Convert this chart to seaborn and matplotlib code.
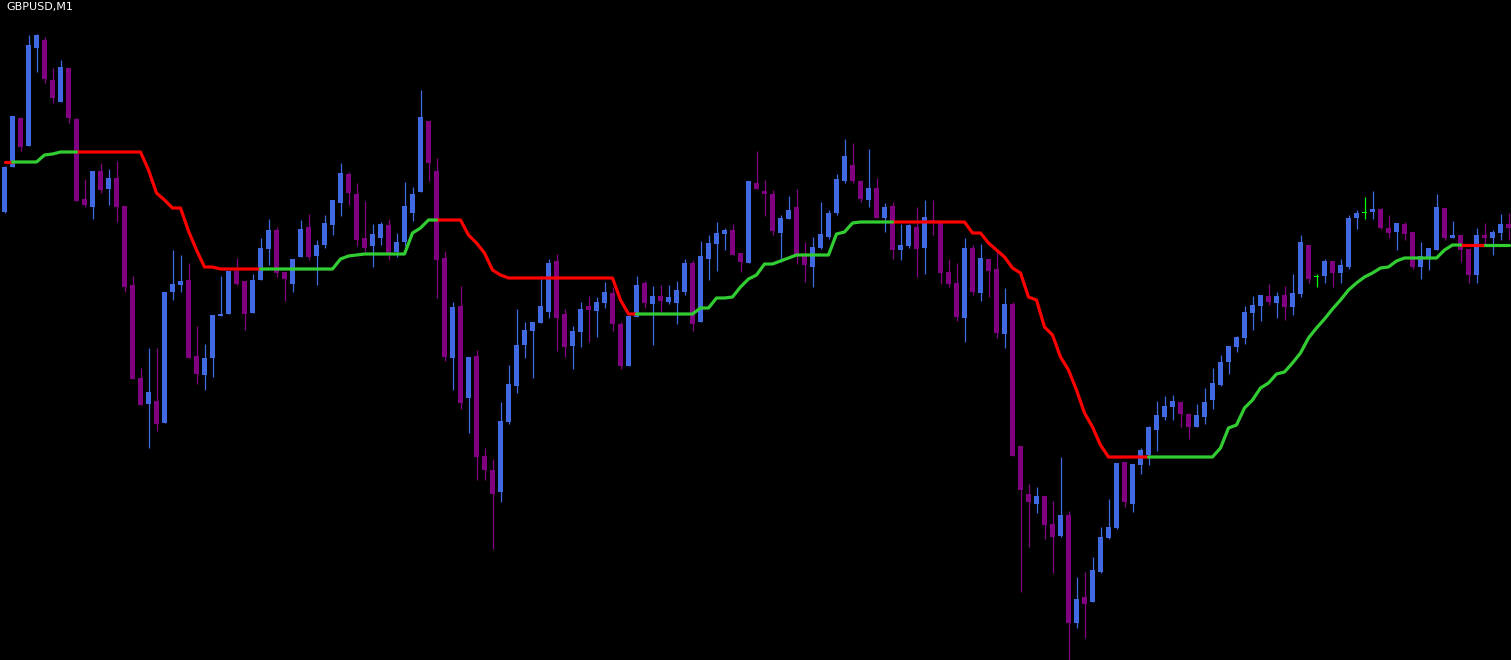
import numpy as np
import pandas as pd
import seaborn as sns
import matplotlib.pyplot as plt

# GBPUSD M1 quotes, stored in points (0.00001) below the chart top price
TOP_PRICE = 1.27000
POINT = 0.00001

open_pts = [212, 167, 118, 146, 48, 40, 80, 102, 68, 119, 199, 207, 171, 189, 178, 206, 285, 378, 404, 401,
            423, 292, 285, 280, 356, 375, 358, 316, 314, 271, 281, 313, 280, 249, 230, 272, 284, 257, 227, 256,
            245, 225, 203, 174, 194, 238, 246, 238, 225, 252, 242, 213, 192, 121, 171, 258, 358, 306, 398, 356,
            456, 470, 492, 422, 386, 345, 331, 323, 312, 261, 314, 346, 332, 306, 311, 303, 293, 324, 366, 317,
            283, 304, 296, 302, 303, 292, 263, 322, 259, 244, 234, 230, 253, 263, 183, 191, 194, 233, 219, 207,
            255, 267, 248, 237, 213, 181, 165, 181, 200, 188, 218, 206, 250, 246, 227, 248, 220, 223, 272, 283,
            318, 248, 293, 259, 269, 334, 304, 446, 494, 504, 496, 524, 536, 515, 623, 597, 602, 572, 538, 528,
            462, 504, 465, 455, 430, 417, 407, 402, 414, 427, 417, 400, 385, 362, 347, 338, 313, 306, 296, 303,
            295, 307, 294, 245, 277, 276, 261, 273, 267, 218, 213, 212, 209, 228, 232, 224, 232, 267, 258, 250,
            208, 238, 235, 249, 275, 235, 238, 233, 224]
high_pts = [166, 116, 117, 35, 34, 37, 68, 60, 68, 118, 179, 171, 163, 169, 161, 206, 276, 368, 348, 348,
            292, 250, 255, 263, 326, 344, 315, 276, 271, 258, 281, 274, 238, 219, 227, 272, 259, 220, 214, 240,
            215, 200, 163, 172, 183, 201, 224, 222, 219, 233, 182, 187, 90, 121, 158, 251, 302, 286, 357, 350,
            448, 459, 402, 365, 309, 322, 322, 276, 259, 254, 309, 326, 302, 296, 297, 282, 287, 322, 316, 276,
            281, 286, 285, 285, 281, 259, 260, 241, 235, 222, 228, 224, 253, 181, 151, 180, 190, 215, 196, 189,
            242, 237, 202, 210, 174, 139, 143, 180, 149, 178, 203, 202, 224, 224, 207, 200, 200, 223, 259, 263,
            238, 245, 244, 259, 250, 288, 302, 446, 484, 487, 496, 501, 457, 511, 577, 572, 557, 527, 499, 463,
            462, 464, 448, 426, 401, 396, 395, 402, 413, 404, 388, 368, 355, 346, 336, 306, 296, 295, 284, 292,
            286, 274, 235, 245, 274, 259, 261, 259, 215, 210, 197, 191, 208, 215, 223, 222, 232, 242, 248, 194,
            208, 221, 235, 249, 228, 223, 230, 214, 213]
low_pts = [213, 167, 151, 146, 72, 83, 103, 102, 123, 201, 207, 219, 193, 205, 222, 292, 379, 405, 448, 431,
           423, 300, 292, 358, 384, 390, 377, 316, 314, 285, 330, 313, 280, 265, 277, 301, 292, 257, 260, 285,
           248, 235, 216, 205, 246, 252, 267, 245, 260, 257, 246, 221, 192, 181, 298, 361, 390, 409, 433, 480,
           480, 549, 502, 424, 393, 358, 378, 323, 318, 351, 357, 369, 347, 342, 337, 308, 331, 369, 366, 317,
           308, 345, 313, 304, 324, 295, 331, 322, 280, 271, 250, 255, 272, 263, 189, 216, 235, 262, 219, 264,
           282, 287, 249, 239, 215, 183, 183, 202, 207, 218, 232, 259, 260, 248, 277, 274, 235, 284, 287, 321,
           342, 295, 301, 297, 338, 348, 456, 592, 547, 513, 539, 573, 537, 660, 628, 638, 602, 573, 539, 529,
           507, 512, 474, 465, 451, 420, 420, 427, 439, 427, 424, 409, 386, 374, 352, 344, 330, 321, 305, 318,
           320, 315, 297, 283, 287, 283, 287, 283, 269, 229, 219, 219, 229, 238, 250, 240, 269, 279, 270, 250,
           240, 238, 262, 283, 283, 245, 255, 240, 240]
close_pts = [167, 116, 147, 45, 35, 79, 98, 67, 118, 201, 205, 171, 190, 178, 207, 287, 379, 405, 392, 424,
             292, 284, 281, 358, 374, 358, 315, 314, 271, 284, 314, 280, 248, 230, 273, 279, 259, 229, 257, 245,
             223, 200, 173, 193, 240, 248, 234, 224, 254, 242, 206, 194, 117, 163, 260, 357, 307, 403, 357, 457,
             470, 494, 421, 384, 345, 330, 322, 306, 263, 318, 347, 331, 309, 310, 302, 292, 324, 366, 316, 285,
             303, 296, 301, 297, 290, 263, 324, 256, 243, 233, 230, 255, 262, 181, 189, 194, 231, 218, 210, 255,
             265, 247, 234, 213, 179, 156, 181, 199, 188, 218, 207, 250, 245, 225, 249, 217, 223, 273, 284, 317,
             248, 292, 258, 271, 333, 304, 456, 490, 502, 496, 525, 537, 515, 623, 599, 604, 570, 537, 527, 463,
             502, 464, 450, 427, 415, 406, 401, 414, 427, 415, 402, 383, 362, 346, 337, 312, 305, 295, 302, 296,
             307, 293, 242, 279, 277, 261, 273, 265, 218, 213, 213, 209, 228, 233, 223, 234, 267, 256, 248, 207,
             238, 235, 250, 275, 235, 238, 232, 224, 228]

# trailing stop line and its direction (1 = up/green, -1 = down/red)
stop_pts = [162, 162, 162, 162, 162, 155, 154, 152, 152, 152, 152, 152, 152, 152, 152, 152, 152, 152, 170, 193,
            200, 208, 208, 231, 250, 267, 267, 269, 269, 269, 269, 269, 269, 269, 269, 269, 269, 269, 269, 269,
            269, 269, 259, 256, 255, 254, 254, 254, 254, 254, 254, 233, 228, 220, 220, 220, 220, 220, 235, 243,
            253, 270, 275, 278, 278, 278, 278, 278, 278, 278, 278, 278, 278, 278, 278, 278, 278, 300, 314, 314,
            314, 314, 314, 314, 314, 314, 314, 308, 308, 298, 298, 297, 287, 279, 275, 264, 264, 261, 258, 255,
            255, 255, 255, 255, 234, 232, 223, 222, 222, 222, 222, 222, 222, 222, 222, 222, 222, 222, 222, 222,
            222, 233, 233, 243, 250, 257, 268, 273, 297, 300, 327, 335, 357, 370, 390, 413, 427, 445, 457, 457,
            457, 457, 457, 457, 457, 457, 457, 457, 457, 457, 457, 457, 448, 428, 425, 408, 400, 388, 383, 374,
            372, 363, 353, 338, 328, 319, 309, 300, 290, 283, 277, 273, 268, 267, 261, 258, 258, 258, 258, 258,
            250, 245, 245, 245, 245, 245, 245, 245, 245]
trend = ([-1] + [1] * 8 + [-1] * 23 + [1] * 22 + [-1] * 25 + [1] * 32 + [-1] * 32 + [1] * 39
         + [-1] * 3 + [1] * 4)

BULL = "#4169E1"
BEAR = "#800080"
DOJI = "#00FF00"
UP_LINE = "#32CD32"
DOWN_LINE = "#FF0000"


def to_price(pts):
    return TOP_PRICE - np.asarray(pts, dtype=float) * POINT


df = pd.DataFrame({
    "bar": np.arange(len(open_pts)),
    "open": to_price(open_pts),
    "high": to_price(high_pts),
    "low": to_price(low_pts),
    "close": to_price(close_pts),
})
df["color"] = np.where(df["close"] > df["open"], BULL, np.where(df["close"] < df["open"], BEAR, DOJI))

# line segments: segment i -> i+1 takes the colour of bar i
rows = []
run = 0
for i in range(len(stop_pts)):
    if i > 0 and trend[i] != trend[i - 1]:
        run += 1
    rows.append((i, stop_pts[i], run, trend[i]))
    if i + 1 < len(stop_pts) and trend[i + 1] != trend[i]:
        rows.append((i + 1, stop_pts[i + 1], run, trend[i]))
line = pd.DataFrame(rows, columns=["bar", "pts", "run", "trend"])
line["price"] = to_price(line["pts"])
line["trend"] = line["trend"].map({1: "up", -1: "down"})

sns.set_theme(style="dark", rc={"axes.facecolor": "black", "figure.facecolor": "black"})
plt.rcParams["font.family"] = ["DejaVu Sans"]

fig = plt.figure(figsize=(15.11, 6.6), dpi=100)
ax = fig.add_axes([0, 0, 1, 1])
ax.set_facecolor("black")

ax.vlines(df["bar"], df["low"], df["high"], colors=df["color"], linewidth=0.9, zorder=2)
body_low = df[["open", "close"]].min(axis=1)
body_h = (df["open"] - df["close"]).abs().clip(lower=POINT)
ax.bar(df["bar"], body_h, bottom=body_low, width=0.625, color=df["color"], linewidth=0, zorder=3)

sns.lineplot(data=line, x="bar", y="price", hue="trend", units="run", estimator=None, sort=False,
             palette={"up": UP_LINE, "down": DOWN_LINE}, linewidth=2.3, legend=False, ax=ax, zorder=4)

ax.set_xlim(-0.5625, len(open_pts) - 1 + 0.3125)
ax.set_ylim(TOP_PRICE - 660 * POINT, TOP_PRICE)
ax.set_axis_off()

fig.text(6 / 1511, 1 - 2 / 660, "GBPUSD,M1", color="white", fontsize=8, ha="left", va="top")

fig.savefig("out.png", dpi=100, facecolor="black")
